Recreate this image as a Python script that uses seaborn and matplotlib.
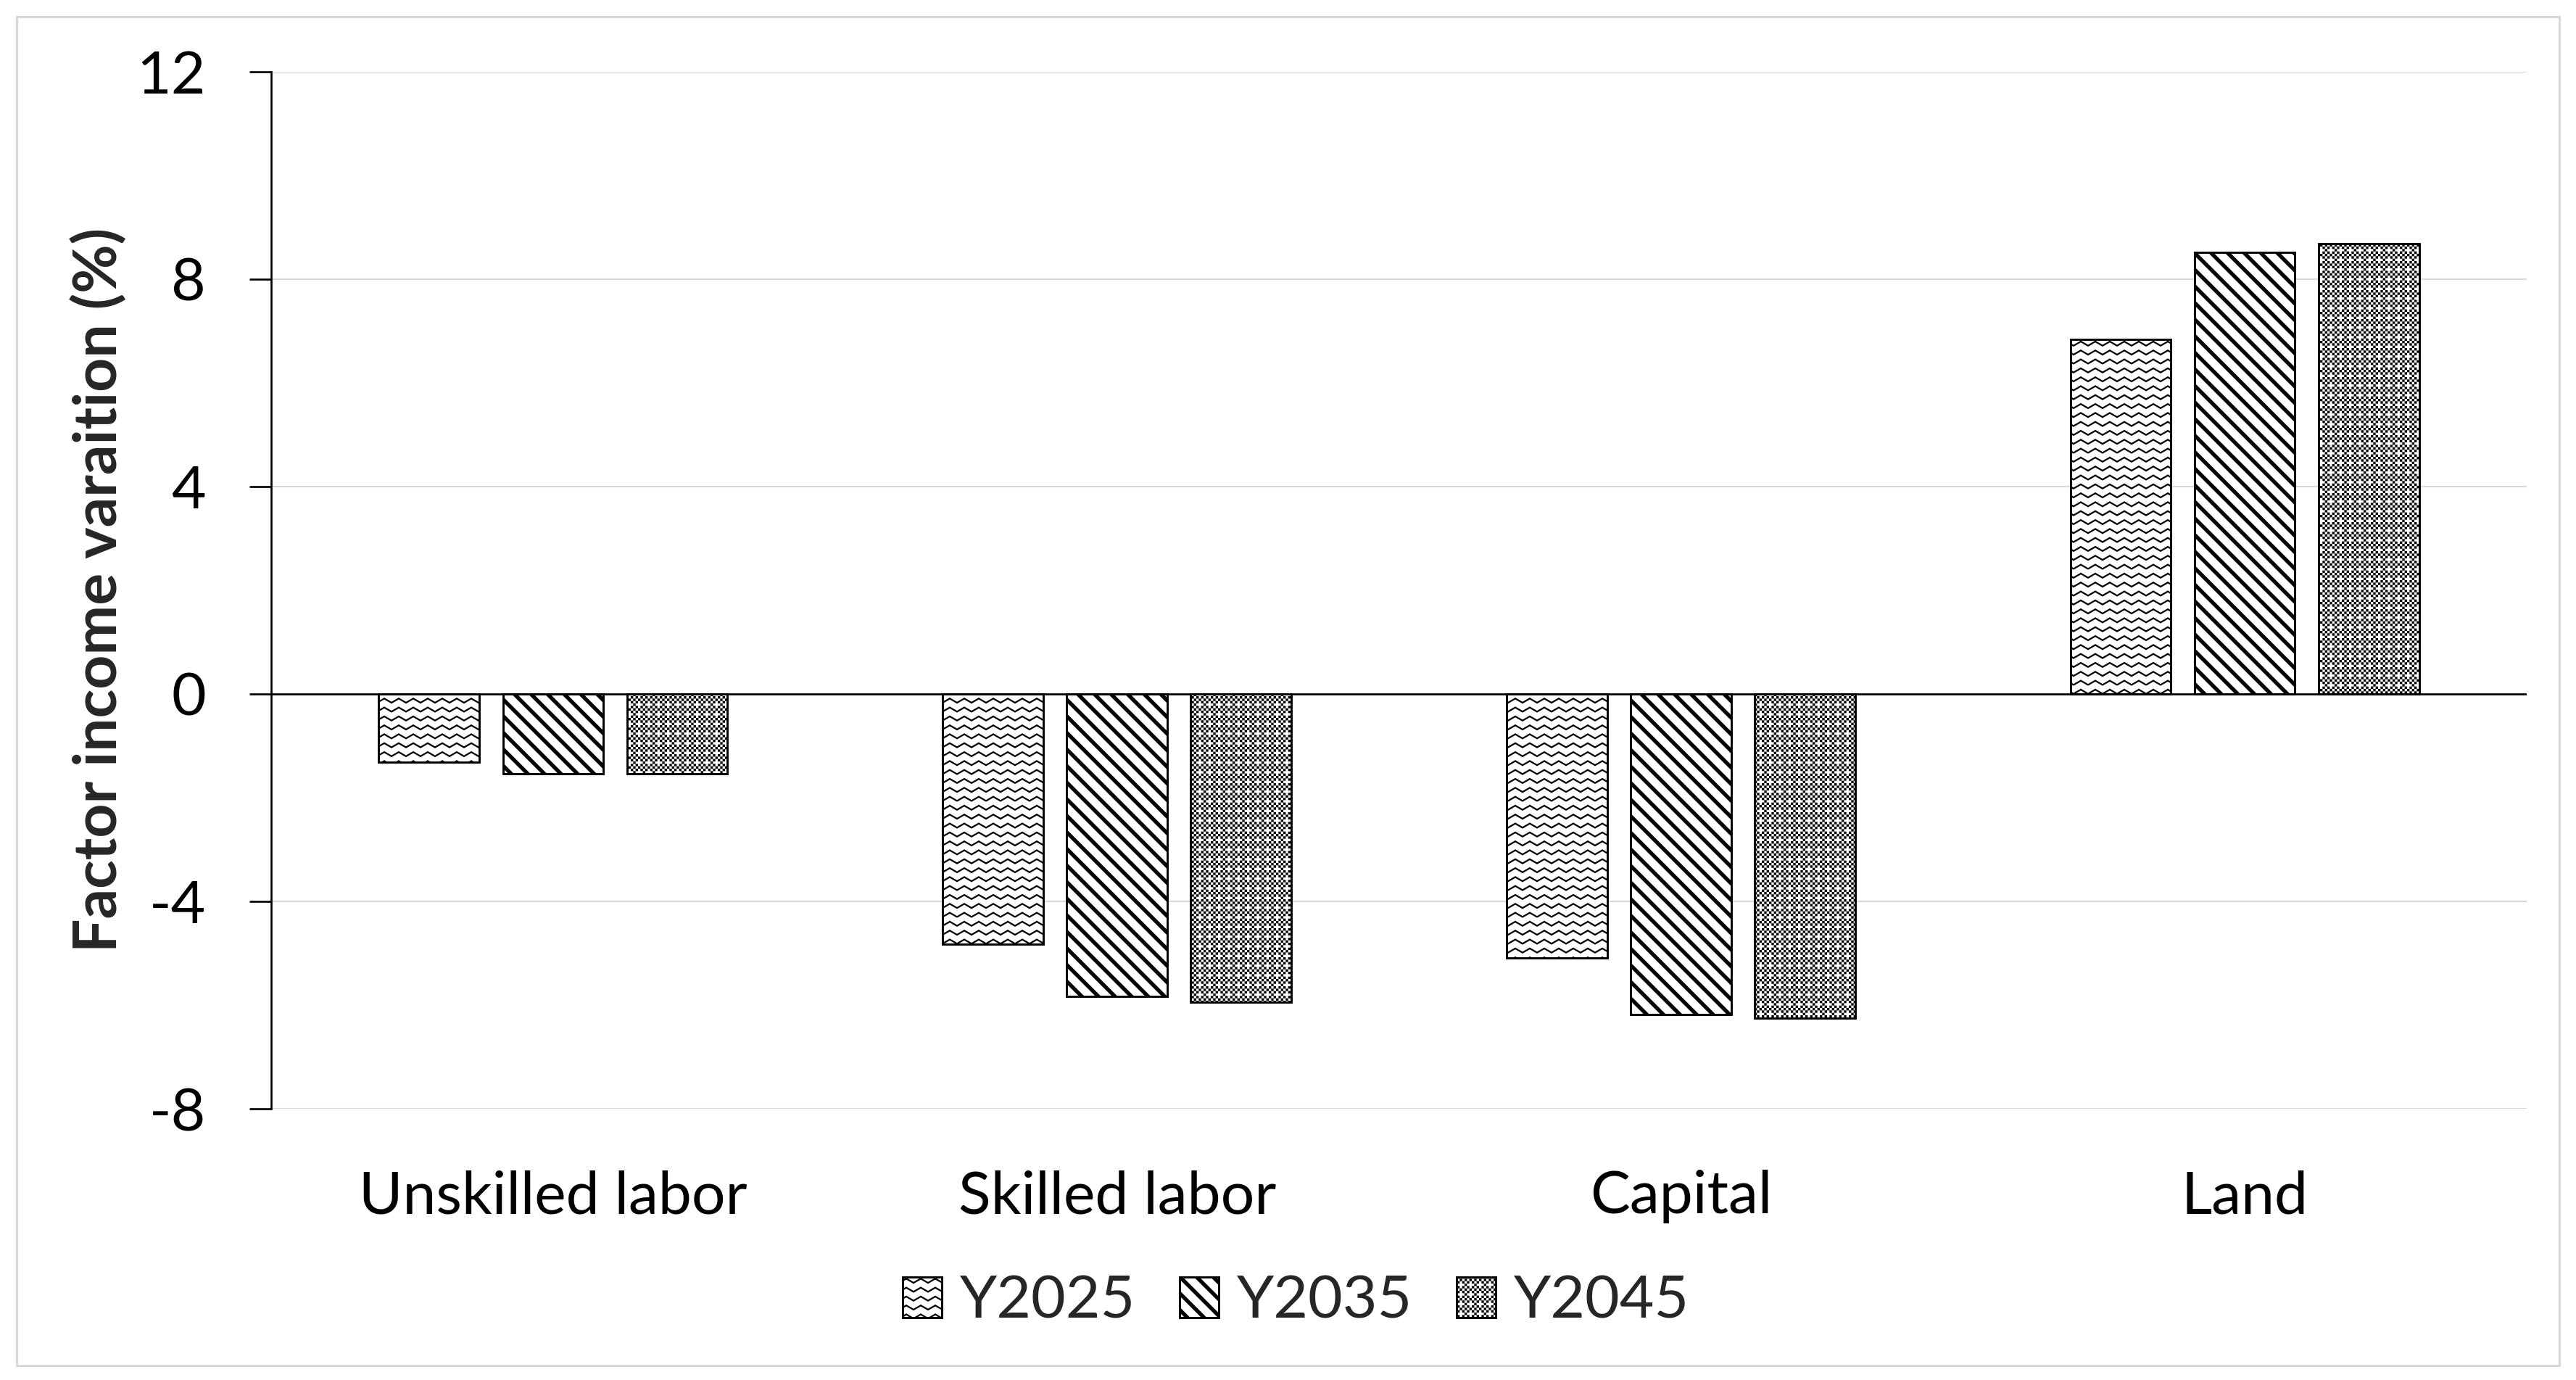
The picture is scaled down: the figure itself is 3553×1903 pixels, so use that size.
import warnings
import numpy as np
import pandas as pd
import matplotlib
matplotlib.use("Agg")
import matplotlib.pyplot as plt
import matplotlib.hatch as mhatch
from matplotlib.path import Path
from matplotlib.patches import Patch, Rectangle
import seaborn as sns

warnings.filterwarnings("ignore")

# ---------------- data ----------------
categories = ["Unskilled labor", "Skilled labor", "Capital", "Land"]
series_names = ["Y2025", "Y2035", "Y2045"]
y2025 = [-1.32, -4.82, -5.09, 6.83]
y2035 = [-1.54, -5.83, -6.18, 8.52]
y2045 = [-1.54, -5.95, -6.25, 8.68]
y_ticks = [-8, -4, 0, 4, 8, 12]
y_label = "Factor income varaition (%)"

# ---------------- custom hatch patterns ----------------
class _PolyHatch(mhatch.HatchPatternBase):
    char = None

    def __init__(self, hatch, density):
        self.polys = self.build() if (self.char and self.char in hatch) else []
        self.num_vertices = 5 * len(self.polys)

    def build(self):
        return []

    def set_vertices_and_codes(self, vertices, codes):
        for i, poly in enumerate(self.polys):
            vertices[5 * i:5 * i + 4] = poly
            vertices[5 * i + 4] = poly[0]
            codes[5 * i] = Path.MOVETO
            codes[5 * i + 1:5 * i + 4] = Path.LINETO
            codes[5 * i + 4] = Path.CLOSEPOLY


class ZigZagHatch(_PolyHatch):
    char = "z"

    def build(self):
        rows, periods, amp, t = 13, 8, 0.036, 0.016
        polys = []
        nseg = 2 * periods
        for r in range(rows):
            y0 = (r + 0.5) / rows
            for j in range(nseg):
                x1, x2 = j / nseg, (j + 1) / nseg
                if j % 2 == 0:
                    y1, y2 = y0 - amp / 2, y0 + amp / 2
                else:
                    y1, y2 = y0 + amp / 2, y0 - amp / 2
                polys.append([(x1, y1 - t / 2), (x2, y2 - t / 2),
                              (x2, y2 + t / 2), (x1, y1 + t / 2)])
        return polys


class StripeHatch(_PolyHatch):
    char = "d"

    def build(self):
        n, w = 7, 0.047
        polys = []
        for k in range(-n - 1, n + 2):
            o = k / n
            polys.append([(o, 1), (o + w, 1), (o + w + 1, 0), (o + 1, 0)])
        return polys


class CheckerHatch(_PolyHatch):
    char = "c"

    def build(self):
        m = 48
        polys = []
        for i in range(m):
            for j in range(m):
                if (i + j) % 2 == 0 and not (i % 4 == 0 and j % 4 == 0):
                    x0, y0 = i / m, j / m
                    x1, y1 = (i + 1) / m, (j + 1) / m
                    polys.append([(x0, y0), (x1, y0), (x1, y1), (x0, y1)])
        return polys


mhatch._hatch_types.extend([ZigZagHatch, StripeHatch, CheckerHatch])
hatches = ["z", "d", "c"]

# ---------------- style ----------------
sns.set_style("white")
plt.rcParams["font.family"] = ["Lato", "DejaVu Sans"]
plt.rcParams["hatch.linewidth"] = 0.01
plt.rcParams["hatch.color"] = "black"

FS = 37
DPI = 160
W_PX, H_PX = 3553, 1903

df = pd.DataFrame({
    "category": categories * 3,
    "series": [s for s in series_names for _ in categories],
    "value": y2025 + y2035 + y2045,
})

fig = plt.figure(figsize=(W_PX / DPI, H_PX / DPI), dpi=DPI)
fig.patch.set_facecolor("white")

left_px, right_px, top_px, bottom_px = 374, 3485, 98.7, 1529
ax = fig.add_axes([left_px / W_PX, 1 - bottom_px / H_PX,
                   (right_px - left_px) / W_PX, (bottom_px - top_px) / H_PX])

sns.barplot(data=df, x="category", y="value", hue="series",
            order=categories, hue_order=series_names,
            palette={s: "white" for s in series_names}, saturation=1,
            width=0.66, gap=0.19, edgecolor="black", linewidth=1.3,
            errorbar=None, legend=False, ax=ax)

for cont, h in zip(ax.containers, hatches):
    for bar in cont:
        bar.set_hatch(h)
        bar.set_zorder(2)

ax.set_ylim(-8, 12)
ax.set_yticks(y_ticks)
ax.set_yticklabels([str(t) for t in y_ticks])
ax.set_xlabel("")
ax.set_ylabel(y_label, fontsize=FS, fontweight="bold")
ax.yaxis.set_label_coords((175 - left_px) / (right_px - left_px), 0.5)

ax.yaxis.grid(True, color="#D9D9D9", linewidth=1.0)
ax.xaxis.grid(False)
ax.set_axisbelow(True)
ax.axhline(0, color="black", linewidth=1.2, zorder=3)

for s in ["top", "right", "bottom"]:
    ax.spines[s].set_visible(False)
ax.spines["left"].set_color("black")
ax.spines["left"].set_linewidth(1.2)

ax.tick_params(axis="y", length=13.5, width=1.2, color="black", direction="out",
               pad=27, labelsize=FS, labelcolor="black", left=True)
ax.tick_params(axis="x", length=0, pad=38, labelsize=FS, labelcolor="black")

handles = [Patch(facecolor="white", edgecolor="black", linewidth=1.3,
                 hatch=h, label=s) for h, s in zip(hatches, series_names)]
fig.legend(handles=handles, loc="center", bbox_to_anchor=(0.5031, 1 - 1795 / H_PX),
           ncol=3, frameon=False, fontsize=FS, handlelength=0.65,
           handleheight=0.67, handletextpad=0.3, columnspacing=0.75,
           borderpad=0, borderaxespad=0)

fig.add_artist(Rectangle((23 / W_PX, (H_PX - 1883) / H_PX),
                         (3530 - 23) / W_PX, (1883 - 23) / H_PX,
                         transform=fig.transFigure, fill=False,
                         edgecolor="#D9D9D9", linewidth=1.4))

fig.savefig("out.png", dpi=DPI, facecolor="white")
